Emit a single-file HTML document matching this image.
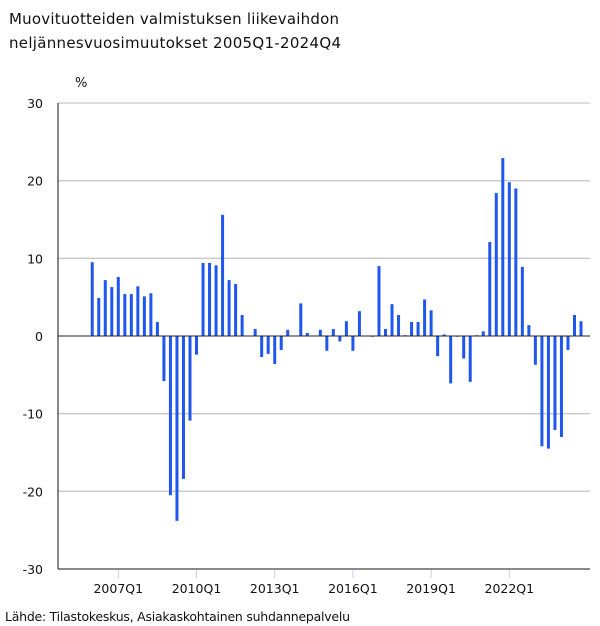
<!DOCTYPE html>
<html><head><meta charset="utf-8"><style>
body{margin:0;background:#fff;font-family:"Liberation Sans",sans-serif}
svg{display:block}
</style></head><body>
<svg width="600" height="626" font-family="Verdana, 'DejaVu Sans', 'Liberation Sans', sans-serif">
<text x="9" y="24" font-size="15" textLength="330" fill="#111">Muovituotteiden valmistuksen liikevaihdon</text>
<text x="9" y="48" font-size="15" textLength="332" fill="#111">neljännesvuosimuutokset 2005Q1-2024Q4</text>
<text x="75" y="87" font-size="13" fill="#111">%</text>
<g id="grid"></g><g id="bars"></g><g id="axes"></g>
<text x="5" y="621" font-size="12.5" textLength="345" fill="#111">Lähde: Tilastokeskus, Asiakaskohtainen suhdannepalvelu</text>
</svg>
<script>
const categoriesStart = 2005;
const values = [null,null,null,null,
9.5,4.9,7.2,6.3, 7.6,5.4,5.4,6.4, 5.1,5.5,1.8,-5.8, -20.5,-23.8,-18.4,-10.9,
-2.4,9.4,9.4,9.1, 15.6,7.2,6.7,2.7, 0,0.9,-2.7,-2.3, -3.6,-1.8,0.8,0,
4.2,0.4,0,0.8, -1.9,0.9,-0.7,1.9, -1.9,3.2,0,-0.1, 9.0,0.9,4.1,2.7,
0.1,1.8,1.8,4.7, 3.3,-2.6,0.2,-6.1, -0.1,-2.9,-5.9,0.1, 0.6,12.1,18.4,22.9,
19.8,19.0,8.9,1.4, -3.7,-14.2,-14.5,-12.1, -13.0,-1.8,2.7,1.9];
const yTicks = [30,20,10,0,-10,-20,-30];
const xTickLabels = ["2007Q1","2010Q1","2013Q1","2016Q1","2019Q1","2022Q1"];
const xTickIndex = [8,20,32,44,56,68];

const NS="http://www.w3.org/2000/svg";
const L=58,R=590,T=103,B=569;
const y=v=>336 - v*(B-T)/60;
const x=i=>118.3+(i-8)*6.517;
function mk(tag,attrs,parent,text){const e=document.createElementNS(NS,tag);for(const k in attrs)e.setAttribute(k,attrs[k]);if(text!=null)e.textContent=text;parent.appendChild(e);return e;}
const grid=document.getElementById('grid'),bars=document.getElementById('bars'),axes=document.getElementById('axes');
yTicks.forEach(t=>{
  if(t!==0&&t!==-30){const g=mk('line',{x1:L,x2:R,y1:y(t),y2:y(t),stroke:'#c8c8c8','stroke-width':1.3},grid);
  
  }
  const lb=mk('text',{x:43,y:y(t)+5,'text-anchor':'end','font-size':12.5,fill:'#111'},axes,String(t));
  
  
});
values.forEach((v,i)=>{
  if(v==null)return;
  const y0=y(0),y1=y(v);
  const r=mk('rect',{x:x(i)-1.5,width:3,y:Math.min(y0,y1),height:Math.max(Math.abs(y1-y0),0.5),fill:'#1f57ee'},bars);
  
  
});
const z=mk('line',{x1:L,x2:R,y1:y(0),y2:y(0),stroke:'#222','stroke-width':1},axes);


const ya=mk('line',{x1:L,x2:L,y1:T,y2:B,stroke:'#111','stroke-width':1},axes);


const xa=mk('line',{x1:L,x2:R,y1:B,y2:B,stroke:'#111','stroke-width':1},axes);


xTickLabels.forEach((lab,k)=>{
  const px=x(xTickIndex[k]);
  const tk=mk('line',{x1:px,x2:px,y1:B+1,y2:B+9,stroke:'#c0d0e8','stroke-width':1},axes);
  
  
  const t=mk('text',{x:px,y:B+24,'text-anchor':'middle','font-size':12.5,fill:'#111'},axes,lab);
  
  
});
</script>
</body></html>
